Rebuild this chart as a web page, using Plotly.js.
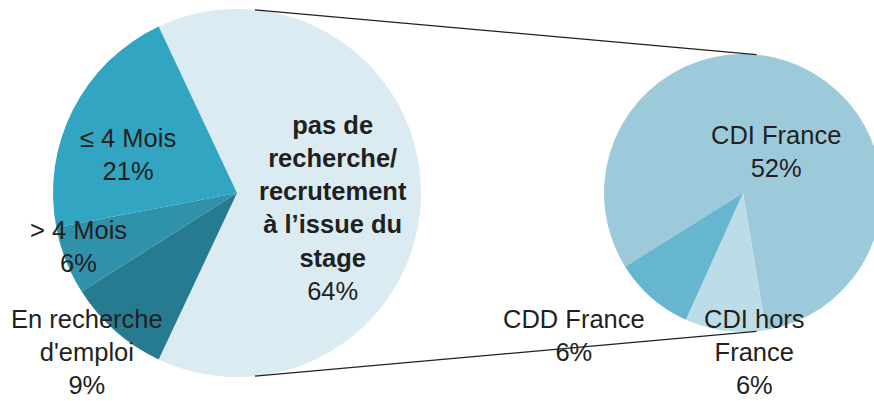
<!DOCTYPE html>
<html>
<head>
<meta charset="utf-8">
<script src="https://cdn.plot.ly/plotly-3.0.1.min.js"></script>
<style>
html,body{margin:0;padding:0;overflow:hidden;background:#fff;}
#chart{width:890px;height:401px;}
</style>
</head>
<body>
<div id="chart"></div>
<script>
// ---- data ----
const mainLabels = ["pas de recherche/recrutement à l’issue du stage", "En recherche d'emploi", "> 4 Mois", "≤ 4 Mois"];
const mainValues = [64, 9, 6, 21];
const mainColors = ["#DBEBF2", "#267B91", "#3091AB", "#31A5C1"];
const mainDisplay = ["<b>pas de<br>recherche/<br>recrutement<br>à l’issue du<br>stage</b>", "En recherche<br>d'emploi", "> 4 Mois", "≤ 4 Mois"];

const subLabels = ["CDI France", "CDI hors France", "CDD France"];
const subValues = [52, 6, 6];
const subColors = ["#9DCADB", "#BCDCE8", "#66B6CF"];
const subDisplay = ["CDI France", "CDI hors<br>France", "CDD France"];

// ---- geometry (pixels) ----
const W = 890, H = 401;
const main = {cx: 237, cy: 193, r: 184};
const sub = {cx: 743, cy: 193, r: 139};
function dom(p){ return {x:[(p.cx-p.r)/W,(p.cx+p.r)/W], y:[1-(p.cy+p.r)/H, 1-(p.cy-p.r)/H]}; }

const mainTotal = mainValues.reduce((a,b)=>a+b,0);
const mainRotation = -mainValues[0]/mainTotal*360/2 + 90;
const subRotation = 238;

const txtFont = {family: "Liberation Sans, Arial, sans-serif", size: 25.5, color: "#231F20"};

const traces = [
  {type:"pie", labels: mainLabels, values: mainValues, sort:false, direction:"clockwise",
   rotation: mainRotation, marker:{colors: mainColors, line:{width:0}}, textinfo:"none",
   hoverinfo:"skip", domain: dom(main), showlegend:false},
  {type:"pie", labels: subLabels, values: subValues, sort:false, direction:"clockwise",
   rotation: subRotation, marker:{colors: subColors, line:{width:0}}, textinfo:"none",
   hoverinfo:"skip", domain: dom(sub), showlegend:false}
];

// label positions (pixels, centre of text block)
const mainLabelPos = [[333, 208], [87, 352], [78, 246], [128, 154]];
const subLabelPos = [[776, 151], [754, 352], [574, 335]];

const annotations = [];
mainValues.forEach((v,i)=>{
  annotations.push({xref:"paper", yref:"paper", x: mainLabelPos[i][0]/W, y: 1-mainLabelPos[i][1]/H,
    xanchor:"center", yanchor:"middle", align:"center", showarrow:false,
    text: mainDisplay[i] + "<br>" + v + "%", font: txtFont});
});
subValues.forEach((v,i)=>{
  annotations.push({xref:"paper", yref:"paper", x: subLabelPos[i][0]/W, y: 1-subLabelPos[i][1]/H,
    xanchor:"center", yanchor:"middle", align:"center", showarrow:false,
    text: subDisplay[i] + "<br>" + v + "%", font: txtFont});
});

// connector lines (from near-top/bottom of main pie to near-top/bottom of sub pie)
const ang = 5.6*Math.PI/180;
function pt(p, top){ return [p.cx + p.r*Math.sin(ang), top ? p.cy - p.r*Math.cos(ang) : p.cy + p.r*Math.cos(ang)]; }
const shapes = [true,false].map(top=>{
  const a = pt(main, top), b = pt(sub, top);
  return {type:"line", xref:"paper", yref:"paper", x0:a[0]/W, y0:1-a[1]/H, x1:b[0]/W, y1:1-b[1]/H,
    line:{color:"#231F20", width:1.3}, layer:"above"};
});

const layout = {width: W, height: H, margin:{l:0,r:0,t:0,b:0},
  paper_bgcolor:"#ffffff", plot_bgcolor:"#ffffff", showlegend:false,
  annotations, shapes};

Plotly.newPlot("chart", traces, layout, {staticPlot:true, displayModeBar:false});
</script>
</body>
</html>
